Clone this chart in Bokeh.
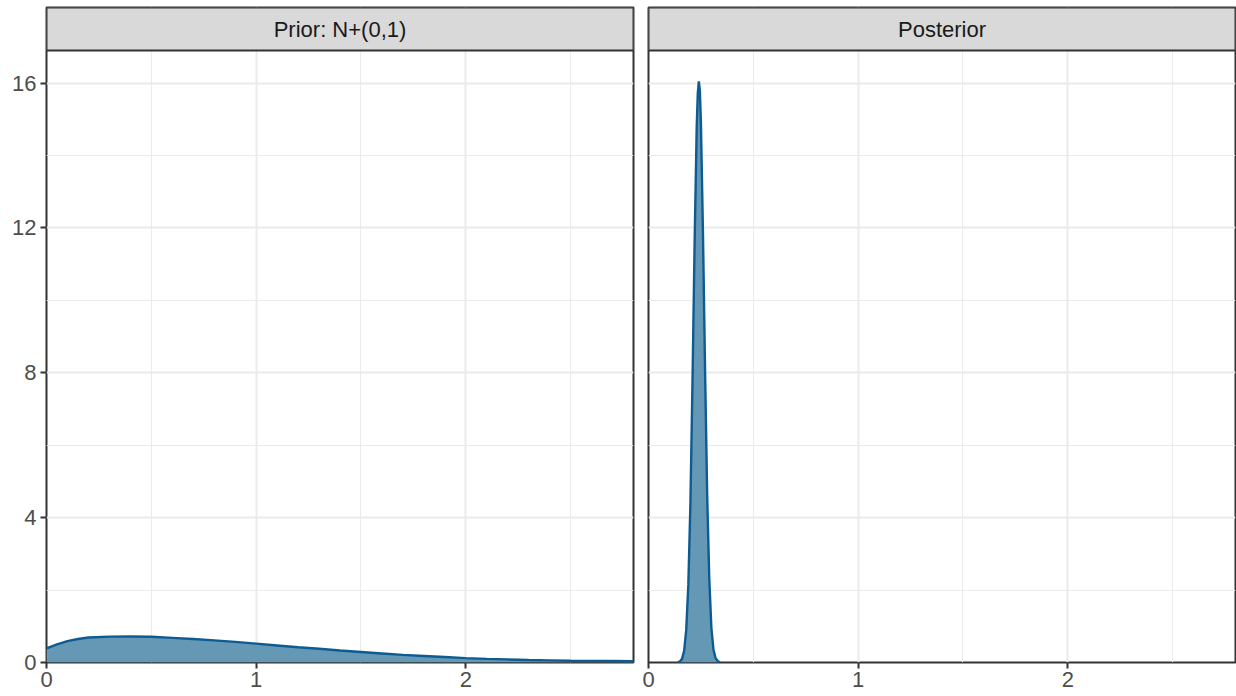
from bokeh.plotting import figure
from bokeh.layouts import row
from bokeh.models import FixedTicker, Range1d
from bokeh.embed import file_html
from bokeh.resources import INLINE
from bokeh.core.properties import value

# ---------------- data ----------------
panel_titles = ["Prior: N+(0,1)", "Posterior"]

prior_x = [0.0, 0.05, 0.1, 0.15, 0.2, 0.3, 0.4, 0.5, 0.6, 0.7, 0.8, 0.9, 1.0,
           1.1, 1.2, 1.3, 1.4, 1.5, 1.6, 1.7, 1.8, 1.9, 2.0, 2.1, 2.2, 2.3,
           2.4, 2.5, 2.6, 2.7, 2.8]
prior_density = [0.39, 0.50, 0.59, 0.65, 0.69, 0.715, 0.72, 0.71, 0.68, 0.65,
                 0.61, 0.57, 0.52, 0.47, 0.42, 0.38, 0.33, 0.29, 0.25, 0.21,
                 0.18, 0.15, 0.12, 0.10, 0.085, 0.07, 0.06, 0.05, 0.045, 0.04,
                 0.035]

post_x = [0.14, 0.15, 0.16, 0.17, 0.18, 0.19, 0.20, 0.21, 0.22, 0.23, 0.235,
          0.24, 0.245, 0.25, 0.26, 0.27, 0.28, 0.29, 0.30, 0.31, 0.32, 0.33,
          0.34]
post_density = [0.0, 0.03, 0.10, 0.32, 0.90, 2.15, 4.4, 7.8, 11.6, 14.8, 15.7,
                16.05, 15.8, 14.9, 11.8, 8.0, 4.6, 2.3, 0.95, 0.35, 0.12, 0.04,
                0.0]

x_ticks = [0, 1, 2]
x_minor_ticks = [0.5, 1.5, 2.5]
y_ticks = [0, 4, 8, 12, 16]
y_minor_ticks = [2, 6, 10, 14]
x_max = 2.8
y_panel_max = 16.9

# ---------------- styling / layout ----------------
FONT = "Liberation Sans"
FS = "22px"
H = 696
TOP = 7
BOTTOM = 34
STRIP_PX = 43
FRAME_W = 587
frame_h = H - TOP - BOTTOM
panel_px = frame_h - STRIP_PX
y_frame_max = y_panel_max * frame_h / panel_px

FILL = "#6598B5"
LINE = "#0D5B93"


def make_panel(title, xs, ys, show_y, left, right):
    p = figure(width=left + FRAME_W + right, height=H,
               x_range=Range1d(0, x_max), y_range=Range1d(0, y_frame_max),
               output_backend="svg", toolbar_location=None,
               min_border_left=left, min_border_right=right,
               min_border_top=TOP, min_border_bottom=BOTTOM)
    p.background_fill_color = "white"
    p.border_fill_color = "white"
    p.outline_line_color = "#333333"
    p.outline_line_width = 2

    xt = FixedTicker(ticks=x_ticks, minor_ticks=x_minor_ticks)
    yt = FixedTicker(ticks=y_ticks, minor_ticks=y_minor_ticks)
    p.xaxis.ticker = xt
    p.yaxis.ticker = yt
    p.xgrid.ticker = xt
    p.ygrid.ticker = yt
    for g in (p.xgrid, p.ygrid):
        g.grid_line_color = "#EBEBEB"
        g.grid_line_width = 2
        g.minor_grid_line_color = "#EBEBEB"
        g.minor_grid_line_width = 1

    for ax in (p.xaxis, p.yaxis):
        ax.axis_line_color = None
        ax.major_tick_in = 0
        ax.major_tick_out = 6
        ax.major_tick_line_color = "#333333"
        ax.major_tick_line_width = 2
        ax.minor_tick_line_color = None
        ax.major_label_text_font = FONT
        ax.major_label_text_font_size = FS
        ax.major_label_text_color = "#4D4D4D"
    p.xaxis.major_label_standoff = 3
    p.yaxis.major_label_standoff = 4
    if not show_y:
        p.yaxis.visible = False

    p.varea(x=xs, y1=0, y2=ys, fill_color=FILL, fill_alpha=1.0)
    p.line(xs, ys, line_color=LINE, line_width=2.4)

    # facet strip
    p.quad(left=0, right=x_max, bottom=y_panel_max, top=y_frame_max,
           fill_color="#D9D9D9", line_color="#333333", line_width=2)
    p.text(x=[x_max / 2], y=[(y_panel_max + y_frame_max) / 2], text=[title],
           text_align="center", text_baseline="middle",
           text_font=value(FONT), text_font_size=FS, text_color="#1A1A1A")
    return p


p1 = make_panel(panel_titles[0], prior_x, prior_density, True, 46, 7)
p2 = make_panel(panel_titles[1], post_x, post_density, False, 8, 1)

layout = row(p1, p2)
open("out.html", "w").write(file_html(layout, INLINE))
